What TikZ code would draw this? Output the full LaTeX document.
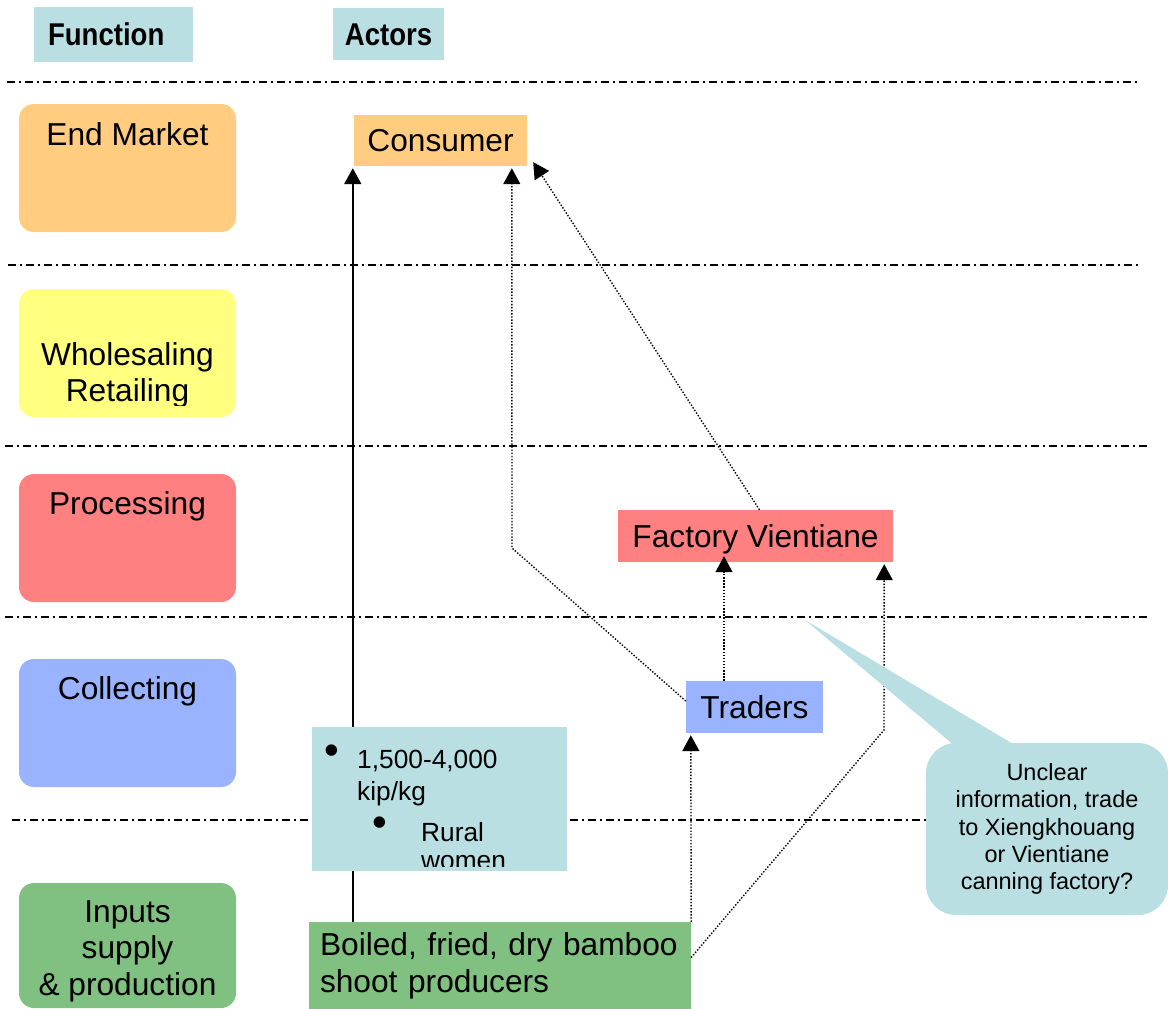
\documentclass[tikz,border=0pt]{standalone}
\usepackage{fontspec}
\setmainfont{Liberation Sans}
\usetikzlibrary{arrows.meta}
\definecolor{cOrange}{HTML}{FFCC80}
\definecolor{cYellow}{HTML}{FFFF80}
\definecolor{cRed}{HTML}{FF8080}
\definecolor{cBlue}{HTML}{99B3FF}
\definecolor{cGreen}{HTML}{80C080}
\definecolor{cTeal}{HTML}{B9DFE3}
\begin{document}
\begin{tikzpicture}[x=1pt,y=-1pt,
  fbox/.style={rectangle, rounded corners=15pt, inner sep=0pt, minimum width=217pt, minimum height=128pt},
  ftext/.style={font=\fontsize{31.7}{36.5}\selectfont, align=center, anchor=north, inner sep=0pt},
  abox/.style={rectangle, inner sep=0pt, font=\fontsize{31.7}{37}\selectfont, text height=22.7pt, text depth=0pt},
  hbox/.style={rectangle, fill=cTeal, inner sep=0pt, font=\fontsize{31.5}{36}\selectfont\bfseries, text height=22.6pt, text depth=0pt},
  itext/.style={font=\fontsize{26.3}{32}\selectfont, inner sep=0pt, anchor=base west},
  bul/.style={font=\fontsize{42}{42}\selectfont, inner sep=0pt},
  ddline/.style={line width=1.4pt, dash pattern=on 8pt off 4pt on 2pt off 4pt},
  flow/.style={line width=1.4pt, dash pattern=on 1.4pt off 1.7pt, -{Triangle[width=17pt,length=16pt]}},
  solidflow/.style={line width=2pt, -{Triangle[width=17pt,length=16pt]}}
]
\useasboundingbox (0,0) rectangle (1168,1009);

% separating lines
\draw[ddline] (7,82) -- (1138,82);
\draw[ddline] (8,265) -- (1140,265);
\draw[ddline] (5,446) -- (1150,446);
\draw[ddline] (5,617) -- (1150,617);
\draw[ddline] (12,820) -- (1150,820);

% header
\node[hbox, text width=131pt, inner xsep=14pt, minimum height=55pt, align=left] (hFn) at (113.5,34.5) {\scalebox{0.875}[1]{Function}};
\node[hbox, minimum width=111pt, minimum height=52pt] (hAc) at (388.5,34) {\scalebox{0.875}[1]{Actors}};

% function boxes
\node[fbox, fill=cOrange] (fEM) at (127.5,168) {};
\node[fbox, fill=cYellow] (fWR) at (127.5,353) {};
\node[fbox, fill=cRed] (fPR) at (127.5,538) {};
\node[fbox, fill=cBlue] (fCO) at (127.5,723) {};
\node[fbox, fill=cGreen, minimum height=125pt] (fIN) at (127.5,945.5) {};

\node[ftext] (tEM) at (127.5,122.3) {End Market};
\begin{scope}
  \clip (19,289) rectangle (236,405);
  \node[ftext] (tWR) at (127.5,342.3) {Wholesaling\\Retailing};
\end{scope}
\node[ftext] (tPR) at (127.5,491.3) {Processing};
\node[ftext] (tCO) at (127.5,676.8) {Collecting};
\node[ftext] (tIN) at (127.5,900.3) {Inputs\\supply\\\& production};

% actors
\node[abox, fill=cOrange, minimum width=173pt, minimum height=51pt] (cons) at (440.5,140.5) {Consumer};
\node[abox, fill=cRed, minimum width=275pt, minimum height=52pt] (fac) at (755.5,536) {Factory Vientiane};
\node[abox, fill=cBlue, minimum width=137pt, minimum height=52pt] (trad) at (754.5,707) {Traders};
\node[rectangle, fill=cGreen, inner sep=0pt, inner xsep=11pt, text width=360pt, align=left,
      minimum height=87pt, font=\fontsize{31.7}{37}\selectfont] (prod) at (500,965.5)
      {Boiled, fried, dry bamboo\\shoot producers};

% flows
\coordinate (k2) at (512,548);
\coordinate (k5) at (884,730);
\draw[solidflow] ([xshift=44pt]prod.north west) -- ([shift={(-1pt,-2pt)}]cons.south west);
\draw[flow] ([yshift=6pt]trad.west) -- (k2) -- ([shift={(158pt,-2pt)}]cons.south west);
\draw[flow] ([xshift=4pt]fac.north) -- ([shift={(6pt,4pt)}]cons.south east);
\draw[flow] ([xshift=-30.5pt]trad.north) -- ([shift={(-31.5pt,6pt)}]fac.south);
\draw[flow] ([yshift=8pt]prod.east) -- (k5) -- ([shift={(-9pt,-2pt)}]fac.south east);
\draw[flow] (prod.north east) -- ([shift={(5pt,-2pt)}]trad.south west);

% info box
\node[rectangle, fill=cTeal, minimum width=255pt, minimum height=144pt, inner sep=0pt] (info) at (439.5,799) {};
\node[bul] (bu1) at (332,755) {•};
\node[itext] (i1) at (357,768) {1,500-4,000};
\node[itext] (i2) at (357,800) {kip/kg};
\node[bul] (bu2) at (380,827) {•};
\node[itext] (i3) at (421,841) {Rural};
\begin{scope}
  \clip (312,727) rectangle (567,866);
  \node[itext] (i4) at (421,869.5) {women};
\end{scope}

% callout
\coordinate (ptip) at (805,620);
\node[rectangle, rounded corners=30pt, fill=cTeal, minimum width=242pt, minimum height=172pt, inner sep=0pt,
      align=center, font=\fontsize{23.5}{27.3}\selectfont] (call) at (1047,829)
      {Unclear\\information, trade\\to Xiengkhouang\\or Vientiane\\canning factory?};
\fill[cTeal] (ptip) -- ([shift={(-84pt,-10pt)}]call.north) -- ([shift={(-19pt,-10pt)}]call.north) -- cycle;
\end{tikzpicture}
\end{document}
